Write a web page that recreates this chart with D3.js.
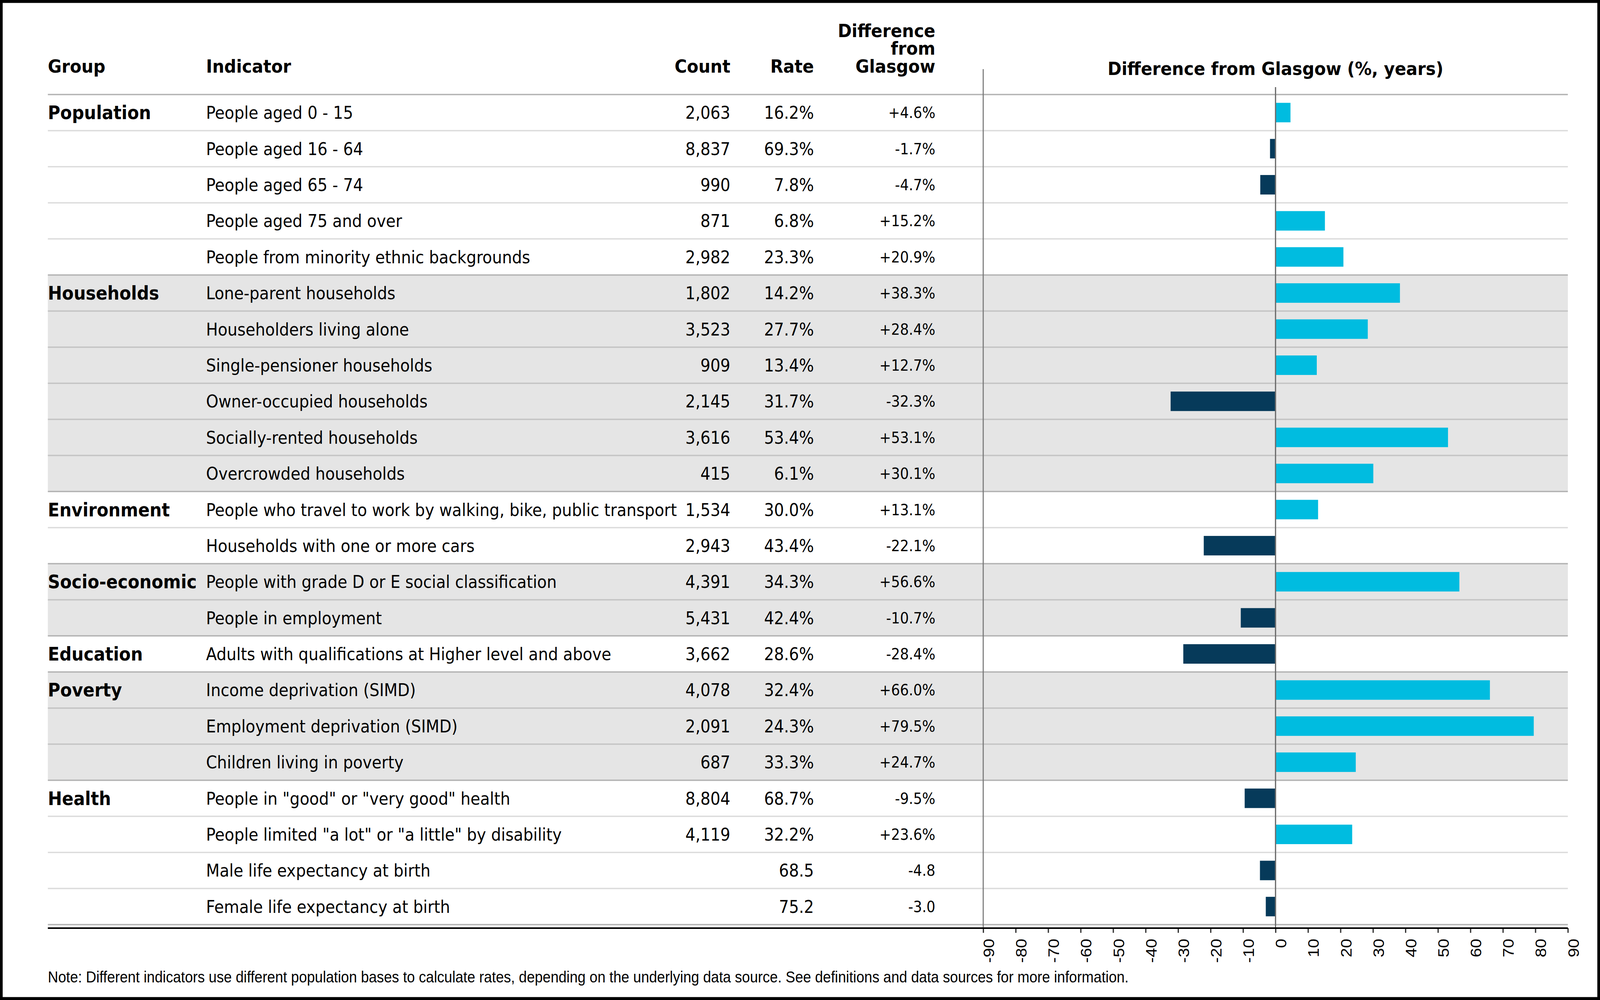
<!DOCTYPE html>
<html>
<head>
<meta charset="utf-8">
<script src="https://cdn.jsdelivr.net/npm/d3@7"></script>
<style>
  html, body { margin: 0; padding: 0; width: 100%; height: 100%; overflow: hidden; background: #fff; }
  svg { display: block; width: 100vw; height: 100vh; }
  text { font-family: "DejaVu Sans", sans-serif; fill: #000; }
  .head { font-weight: bold; font-size: 47px; }
  .grp { font-weight: bold; font-size: 47.5px; }
  .cell { font-size: 44px; }
  .diff { font-size: 39px; }
  .note, .tick text { font-family: "Liberation Sans", Arial, sans-serif; }
</style>
</head>
<body>
<svg id="chart"></svg>
<script>
// Table data, one entry per row
var groups = ['Population', 'Population', 'Population', 'Population', 'Population',
  'Households', 'Households', 'Households', 'Households', 'Households', 'Households',
  'Environment', 'Environment',
  'Socio-economic', 'Socio-economic',
  'Education',
  'Poverty', 'Poverty', 'Poverty',
  'Health', 'Health', 'Health', 'Health']

var indicators = [
  'People aged 0 - 15',
  'People aged 16 - 64',
  'People aged 65 - 74',
  'People aged 75 and over',
  'People from minority ethnic backgrounds',
  'Lone-parent households',
  'Householders living alone',
  'Single-pensioner households',
  'Owner-occupied households',
  'Socially-rented households',
  'Overcrowded households',
  'People who travel to work by walking, bike, public transport',
  'Households with one or more cars',
  'People with grade D or E social classification',
  'People in employment',
  'Adults with qualifications at Higher level and above',
  'Income deprivation (SIMD)',
  'Employment deprivation (SIMD)',
  'Children living in poverty',
  'People in "good" or "very good" health',
  'People limited "a lot" or "a little" by disability',
  'Male life expectancy at birth',
  'Female life expectancy at birth'
]

var counts = [2063, 8837, 990, 871, 2982, 1802, 3523, 909, 2145, 3616, 415,
  1534, 2943, 4391, 5431, 3662, 4078, 2091, 687, 8804, 4119, null, null]

var rates = [16.2, 69.3, 7.8, 6.8, 23.3, 14.2, 27.7, 13.4, 31.7, 53.4, 6.1,
  30.0, 43.4, 34.3, 42.4, 28.6, 32.4, 24.3, 33.3, 68.7, 32.2, 68.5, 75.2]

var diffs = [4.6, -1.7, -4.7, 15.2, 20.9, 38.3, 28.4, 12.7, -32.3, 53.1, 30.1,
  13.1, -22.1, 56.6, -10.7, -28.4, 66.0, 79.5, 24.7, -9.5, 23.6, -4.8, -3.0]

// '%' for percentages, '' for life expectancy (years)
var units = ['%', '%', '%', '%', '%', '%', '%', '%', '%', '%', '%',
  '%', '%', '%', '%', '%', '%', '%', '%', '%', '%', '', '']

var xTicks = [-90, -80, -70, -60, -50, -40, -30, -20, -10, 0, 10, 20, 30, 40, 50, 60, 70, 80, 90]

var noteText = 'Note: Different indicators use different population bases to calculate rates, ' +
  'depending on the underlying data source. See definitions and data sources for more information.'

var conf = {
  width: 4480,
  height: 2560,
  left: 134,
  right: 4390,
  top: 242,
  bottom: 2367,
  axisY: 2376,
  indicatorX: 577,
  countX: 2045,
  rateX: 2279,
  diffX: 2619,
  chartLeft: 2753
}

var svg = d3.select('#chart')
  .attr('viewBox', '0 0 ' + conf.width + ' ' + conf.height)
  .attr('preserveAspectRatio', 'none')

var rows = indicators.map(function (d, i) {
  return {
    i: i,
    group: groups[i],
    first: i === 0 || groups[i] !== groups[i - 1],
    last: i === indicators.length - 1 || groups[i] !== groups[i + 1],
    indicator: d,
    count: counts[i],
    rate: rates[i],
    diff: diffs[i],
    unit: units[i]
  }
})

// group index for alternate shading
var groupNames = []
groups.forEach(function (g) { if (groupNames.indexOf(g) < 0) groupNames.push(g) })

var y = d3.scaleBand()
  .domain(d3.range(rows.length))
  .range([conf.top, conf.bottom])

var x = d3.scaleLinear()
  .domain([-90, 90])
  .range([conf.chartLeft, conf.right])

var fmtCount = d3.format(',')

function fmtDiff (v, u) {
  return (v > 0 ? '+' : v < 0 ? '-' : '') + Math.abs(v).toFixed(1) + u
}

// Frame
svg.append('rect')
  .attr('x', 3.5).attr('y', 3.5)
  .attr('width', conf.width - 7).attr('height', conf.height - 7)
  .attr('fill', '#fff')
  .attr('stroke', '#000')
  .attr('stroke-width', 8)

// Shaded groups
svg.selectAll('rect.shade')
  .data(rows.filter(function (d) { return groupNames.indexOf(d.group) % 2 === 1 }))
  .enter()
  .append('rect')
  .attr('class', 'shade')
  .attr('x', conf.left)
  .attr('y', function (d) { return y(d.i) })
  .attr('width', conf.right - conf.left)
  .attr('height', y.bandwidth())
  .attr('fill', '#e5e5e5')

// Row separators
svg.selectAll('line.sep')
  .data(rows.filter(function (d) { return !d.last }))
  .enter()
  .append('line')
  .attr('class', 'sep')
  .attr('x1', conf.left)
  .attr('x2', conf.right)
  .attr('y1', function (d) { return y(d.i) + y.bandwidth() })
  .attr('y2', function (d) { return y(d.i) + y.bandwidth() })
  .attr('stroke', function (d) {
    return groupNames.indexOf(d.group) % 2 === 1 ? '#c4c4c4' : '#dcdcdc'
  })
  .attr('stroke-width', 3.5)

// Group separators (plus header and bottom rules)
var groupEdges = [conf.top].concat(rows.filter(function (d) { return d.last }).map(function (d) {
  return y(d.i) + y.bandwidth()
}))

svg.selectAll('line.gsep')
  .data(groupEdges)
  .enter()
  .append('line')
  .attr('class', 'gsep')
  .attr('x1', conf.left)
  .attr('x2', conf.right)
  .attr('y1', function (d) { return d })
  .attr('y2', function (d) { return d })
  .attr('stroke', '#b3b3b3')
  .attr('stroke-width', 3.5)

// Bars
var barH = y.bandwidth() * 0.54

svg.selectAll('rect.bar')
  .data(rows)
  .enter()
  .append('rect')
  .attr('class', 'bar')
  .attr('x', function (d) { return Math.min(x(0), x(d.diff)) })
  .attr('y', function (d) { return y(d.i) + (y.bandwidth() - barH) / 2 })
  .attr('width', function (d) { return Math.abs(x(d.diff) - x(0)) })
  .attr('height', barH)
  .attr('fill', function (d) { return d.diff > 0 ? '#00bce0' : '#063a5a' })

// Vertical rules
svg.append('line')
  .attr('x1', conf.chartLeft).attr('x2', conf.chartLeft)
  .attr('y1', 177).attr('y2', conf.axisY)
  .attr('stroke', '#777')
  .attr('stroke-width', 3)

svg.append('line')
  .attr('x1', x(0)).attr('x2', x(0))
  .attr('y1', 223).attr('y2', conf.axisY)
  .attr('stroke', '#6e6e6e')
  .attr('stroke-width', 3.5)

// Axis
var axis = svg.append('g')
  .attr('transform', 'translate(0,' + conf.axisY + ')')
  .call(d3.axisBottom(x).tickValues(xTicks).tickSize(12).tickFormat(d3.format('d')))

axis.select('.domain').remove()
axis.selectAll('.tick line')
  .attr('stroke', '#333')
  .attr('stroke-width', 3.5)
axis.selectAll('.tick text')
  .attr('font-size', 43)
  .attr('fill', '#000')
  .attr('transform', 'rotate(-90)')
  .attr('x', -27)
  .attr('y', 0)
  .attr('dy', 30)
  .attr('text-anchor', 'end')
  .text(function (d) { return d < 0 ? '-' + Math.abs(d) : d })

svg.append('line')
  .attr('x1', conf.left).attr('x2', conf.right)
  .attr('y1', conf.axisY).attr('y2', conf.axisY)
  .attr('stroke', '#000')
  .attr('stroke-width', 4)

// Headers
function head (txt, xPos, yPos, anchor) {
  return svg.append('text')
    .attr('class', 'head')
    .attr('x', xPos)
    .attr('y', yPos)
    .attr('text-anchor', anchor)
    .text(txt)
}

head('Group', conf.left, 186, 'start')
head('Indicator', conf.indicatorX, 186, 'start')
head('Count', conf.countX, 186, 'end')
head('Rate', conf.rateX, 186, 'end')
head('Difference from Glasgow (%, years)', x(0), 192, 'middle')

// stacked column header, one text with three lines
var diffHead = head('', conf.diffX, 95, 'end')
diffHead.selectAll('tspan')
  .data(['Difference', 'from', 'Glasgow'])
  .enter()
  .append('tspan')
  .attr('x', conf.diffX)
  .attr('dy', function (d, i) { return i === 0 ? 0 : 45.5 })
  .text(function (d) { return d })

// Cells
var cells = svg.selectAll('g.row')
  .data(rows)
  .enter()
  .append('g')
  .attr('class', 'row')
  .attr('transform', function (d) {
    return 'translate(0,' + (y(d.i) + y.bandwidth() / 2) + ')'
  })

cells.filter(function (d) { return d.first })
  .append('text')
  .attr('class', 'grp')
  .attr('x', conf.left)
  .attr('y', 17)
  .text(function (d) { return d.group })

cells.append('text')
  .attr('class', 'cell')
  .attr('x', conf.indicatorX)
  .attr('y', 16)
  .text(function (d) { return d.indicator })

cells.append('text')
  .attr('class', 'cell')
  .attr('x', conf.countX)
  .attr('y', 16)
  .attr('text-anchor', 'end')
  .text(function (d) { return d.count == null ? '' : fmtCount(d.count) })

cells.append('text')
  .attr('class', 'cell')
  .attr('x', conf.rateX)
  .attr('y', 16)
  .attr('text-anchor', 'end')
  .text(function (d) { return d.rate.toFixed(1) + d.unit })

cells.append('text')
  .attr('class', 'diff')
  .attr('x', conf.diffX)
  .attr('y', 14)
  .attr('text-anchor', 'end')
  .text(function (d) { return fmtDiff(d.diff, d.unit) })

// Note
svg.append('text')
  .attr('class', 'note')
  .attr('x', conf.left)
  .attr('y', 2515)
  .attr('font-size', 40)
  .text(noteText)
</script>
</body>
</html>
